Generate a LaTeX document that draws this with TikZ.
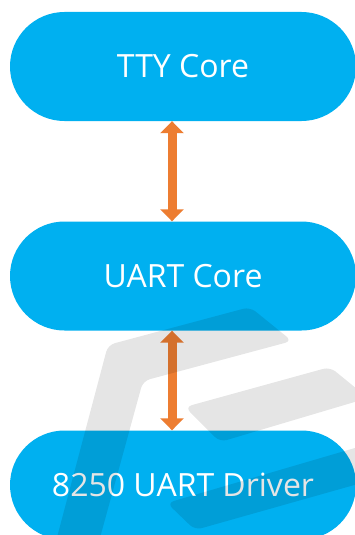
\documentclass[tikz,border=0pt]{standalone}
\usepackage{fontspec}
\setmainfont{Open Sans}
\usetikzlibrary{arrows.meta}
\definecolor{boxblue}{HTML}{00B0F0}
\definecolor{arroworange}{HTML}{ED7D31}
\tikzset{
  layerbox/.style={rectangle, fill=boxblue, draw=none, minimum width=346pt, minimum height=109pt,
    rounded corners=54.5pt, inner sep=0pt, text=white, font=\fontsize{32}{38}\selectfont},
  biarrow/.style={draw=arroworange, line width=9pt,
    {Triangle[width=23pt,length=12pt]}-{Triangle[width=23pt,length=12pt]}, shorten <=0pt, shorten >=0pt},
  watermark/.style={fill=black, opacity=0.1, rounded corners=7pt}
}
\begin{document}
\begin{tikzpicture}[x=1pt,y=-1pt]
\useasboundingbox (0,0) rectangle (355,535);
\clip (0,0) rectangle (355,535);
\fill[white] (0,0) rectangle (355,535);
\node[layerbox] (tty) at (183,66.5) {TTY Core};
\node[layerbox] (uart) at (183,276) {UART Core};
\node[layerbox] (drv) at (183,485) {8250 UART Driver};
\draw[biarrow] ([xshift=-11pt]tty.south) -- ([xshift=-11pt]uart.north);
\draw[biarrow] ([xshift=-11pt]uart.south) -- ([xshift=-11pt]drv.north);
% watermark
\fill[watermark] (55,545) -- (108,345) -- (250,307) -- (292,341) -- (143,381) -- (98,545) -- cycle;
\fill[watermark] (185,407) -- (330,367) -- (368,398) -- (220,442) -- cycle;
\fill[watermark] (167,503) -- (372,443) -- (372,480) -- (195,530) -- cycle;
\end{tikzpicture}
\end{document}
